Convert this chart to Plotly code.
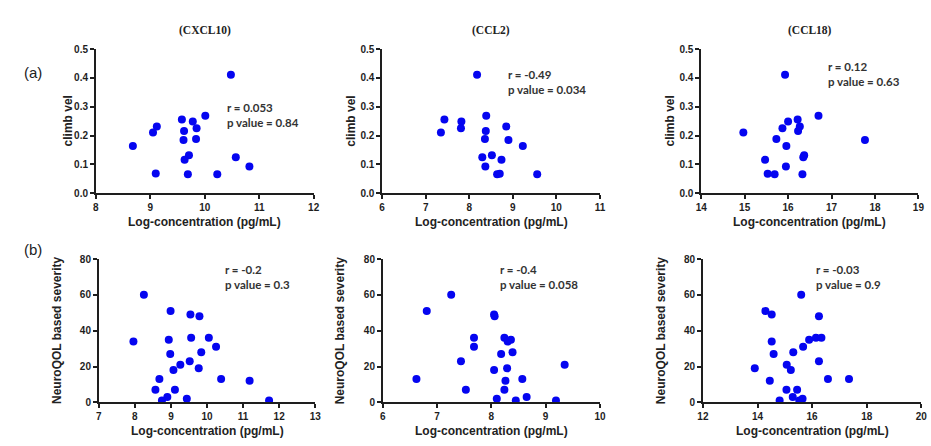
import plotly.graph_objects as go

# ---- data -------------------------------------------------------------
climb_vel = [0.411, 0.269, 0.256, 0.249, 0.226, 0.232, 0.211, 0.216, 0.185,
             0.188, 0.164, 0.132, 0.116, 0.125, 0.093, 0.069, 0.066, 0.066]
cxcl10_a = [10.48, 10.01, 9.58, 9.78, 9.85, 9.12, 9.05, 9.62, 9.61,
            9.84, 8.68, 9.71, 9.63, 10.57, 10.82, 9.10, 9.69, 10.23]
climb_vel_ccl2 = [0.411, 0.269, 0.256, 0.249, 0.226, 0.211, 0.232, 0.216, 0.188,
                  0.185, 0.164, 0.125, 0.132, 0.116, 0.093, 0.066, 0.068, 0.066]
ccl2_a = [8.18, 8.39, 7.43, 7.82, 7.81, 7.35, 8.85, 8.38, 8.36,
          8.90, 9.23, 8.30, 8.52, 8.74, 8.37, 8.64, 8.70, 9.56]
climb_vel_ccl18 = [0.411, 0.269, 0.256, 0.249, 0.226, 0.232, 0.216, 0.211, 0.188,
                   0.185, 0.164, 0.132, 0.125, 0.116, 0.093, 0.068, 0.066, 0.066]
ccl18_a = [15.93, 16.70, 16.22, 16.00, 15.87, 16.27, 16.23, 14.97, 15.73,
           17.77, 15.96, 16.37, 16.35, 15.47, 15.95, 15.53, 15.69, 16.33]

severity_cxcl10 = [60, 34, 51, 49, 48, 35, 36, 36, 31, 27, 28, 21,
                   23, 18, 19, 13, 13, 12, 7, 7, 3, 1, 2, 1]
cxcl10_b = [8.25, 7.96, 8.99, 9.54, 9.79, 8.94, 9.56, 10.05, 10.25, 8.98, 9.84, 9.26,
            9.52, 9.07, 9.77, 8.68, 10.39, 11.18, 8.57, 9.11, 8.90, 8.75, 9.44, 11.72]
severity_ccl2 = [60, 51, 49, 48, 36, 36, 35, 34, 31, 28, 27, 23,
                 21, 19, 18, 13, 13, 12, 7, 7, 3, 2, 1, 1]
ccl2_b = [7.26, 6.81, 8.05, 8.06, 7.68, 8.24, 8.36, 8.30, 7.68, 8.39, 8.18, 7.44,
          9.35, 8.29, 8.05, 6.62, 8.57, 8.26, 7.53, 8.24, 8.65, 8.10, 8.45, 9.19]
severity_ccl18 = [60, 51, 49, 48, 36, 36, 35, 34, 31, 27, 28, 23,
                  21, 18, 19, 13, 13, 12, 7, 7, 3, 2, 1, 1]
ccl18_b = [15.60, 14.29, 14.52, 16.25, 16.14, 16.34, 15.89, 14.52, 15.67, 14.59, 15.31, 16.25,
           15.07, 15.22, 13.90, 16.58, 17.35, 14.45, 15.06, 15.45, 15.29, 15.65, 15.53, 14.81]

cytokines = ["(CXCL10)", "(CCL2)", "(CCL18)"]
stats_a = [("0.053", "0.84"), ("-0.49", "0.034"), ("0.12", "0.63")]
stats_b = [("-0.2", "0.3"), ("-0.4", "0.058"), ("-0.03", "0.9")]

x_ranges_a = [[8, 12], [6, 11], [14, 19]]
x_ticks_a = [[8, 9, 10, 11, 12], [6, 7, 8, 9, 10, 11], [14, 15, 16, 17, 18, 19]]
x_ranges_b = [[7, 13], [6, 10], [12, 20]]
x_ticks_b = [[7, 8, 9, 10, 11, 12, 13], [6, 7, 8, 9, 10], [12, 14, 16, 18, 20]]
y_ticks_a = [0.0, 0.1, 0.2, 0.3, 0.4, 0.5]
y_ticks_b = [0, 20, 40, 60, 80]

# ---- layout geometry (pixels) ----------------------------------------
W, H = 931, 446
dom_x_a = [(91.0, 311.7), (381.0, 601.7), (704.3, 924.3)]
dom_x_b = [(94.0, 313.3), (381.7, 601.7), (706.0, 927.3)]
dom_y_a = (44.3, 192.5)
dom_y_b = (260.0, 407.3)
stat_pos_a = [(10.38, 0.273), (8.85, 0.387), (16.88, 0.414)]
stat_pos_b = [(10.45, 70.1), (8.12, 70.1), (16.06, 70.0)]
x_title_y = [222, 437]


def px(v):
    return v / W


def py(v):
    return 1 - v / H


MARKER = "#0505f0"
AXIS = "#1e1e1e"
tick_font = dict(family="Liberation Sans, Arial", size=10, color=AXIS, weight="bold")
title_font = dict(family="Liberation Sans, Arial", size=12, color="#222222", weight="bold")

fig = go.Figure()
layout = dict(
    width=W, height=H, margin=dict(l=0, r=0, t=0, b=0),
    paper_bgcolor="white", plot_bgcolor="white", showlegend=False,
)
annotations = []

rows = [
    ([cxcl10_a, ccl2_a, ccl18_a], [climb_vel, climb_vel_ccl2, climb_vel_ccl18],
     dom_x_a, dom_y_a, x_ranges_a, x_ticks_a, [0, 0.5], y_ticks_a, stats_a, stat_pos_a,
     "climb vel"),
    ([cxcl10_b, ccl2_b, ccl18_b], [severity_cxcl10, severity_ccl2, severity_ccl18],
     dom_x_b, dom_y_b, x_ranges_b, x_ticks_b, [0, 80], y_ticks_b, stats_b, stat_pos_b,
     "NeuroQOL based severity"),
]

k = 0
for r, (xs, ys, dxs, dy, xr, xt, yr, yt, stats, spos, ytitle) in enumerate(rows):
    for c in range(3):
        k += 1
        xa = "x" if k == 1 else f"x{k}"
        ya = "y" if k == 1 else f"y{k}"
        fig.add_trace(go.Scatter(
            x=xs[c], y=ys[c], mode="markers", xaxis=xa, yaxis=ya,
            marker=dict(color=MARKER, size=8, line=dict(width=0)),
        ))
        ax = dict(
            domain=[px(dxs[c][0]), px(dxs[c][1])], range=xr[c], tickvals=xt[c],
            showline=True, linecolor=AXIS, linewidth=1.6, ticks="outside",
            ticklen=4, tickwidth=1.6, tickcolor=AXIS, showgrid=False,
            zeroline=False, tickfont=tick_font, anchor=ya,
        )
        ay = dict(
            domain=[py(dy[1]), py(dy[0])], range=yr, tickvals=yt,
            showline=True, linecolor=AXIS, linewidth=1.6, ticks="outside",
            ticklen=4, tickwidth=1.6, tickcolor=AXIS, showgrid=False,
            zeroline=False, tickfont=tick_font, anchor=xa,
        )
        if r == 0:
            ay["tickformat"] = ".1f"
        layout["xaxis" if k == 1 else f"xaxis{k}"] = ax
        layout["yaxis" if k == 1 else f"yaxis{k}"] = ay

        # correlation statistics
        annotations.append(dict(
            x=spos[c][0], y=spos[c][1], xref=xa, yref=ya,
            text=f"r = {stats[c][0]}<br>p value = {stats[c][1]}",
            showarrow=False, xanchor="left", yanchor="middle", align="left",
            font=dict(family="Lato, Open Sans", size=11.5, color="#333333", weight="bold"),
        ))
        # x-axis title
        annotations.append(dict(
            x=px((dxs[c][0] + dxs[c][1]) / 2),
            y=py(x_title_y[r]), xref="paper", yref="paper",
            text="Log-concentration (pg/mL)", showarrow=False,
            xanchor="center", yanchor="middle", font=title_font,
        ))
        # y-axis title
        ytx = [63, 350, 673] if r == 0 else [51, 338, 663]
        annotations.append(dict(
            x=px(ytx[c]), y=py((dy[0] + dy[1]) / 2), xref="paper", yref="paper",
            text=ytitle, textangle=-90, showarrow=False,
            xanchor="center", yanchor="middle", font=title_font,
        ))
        # cytokine header above the top row
        if r == 0:
            annotations.append(dict(
                x=px((dxs[c][0] + dxs[c][1]) / 2), y=py(25), xref="paper", yref="paper",
                text=cytokines[c], showarrow=False, xanchor="center", yanchor="middle",
                font=dict(family="Liberation Serif, Times New Roman", size=11.5,
                          color="#222222", weight="bold"),
            ))

# row labels
for lab, yy in (("(a)", 68), ("(b)", 250)):
    annotations.append(dict(
        x=px(27), y=py(yy), xref="paper", yref="paper", text=lab, showarrow=False,
        xanchor="center", yanchor="middle",
        font=dict(family="Liberation Sans, Arial", size=15, color="#222222"),
    ))

layout["annotations"] = annotations
fig.update_layout(**layout)
fig.write_html("out.html")
